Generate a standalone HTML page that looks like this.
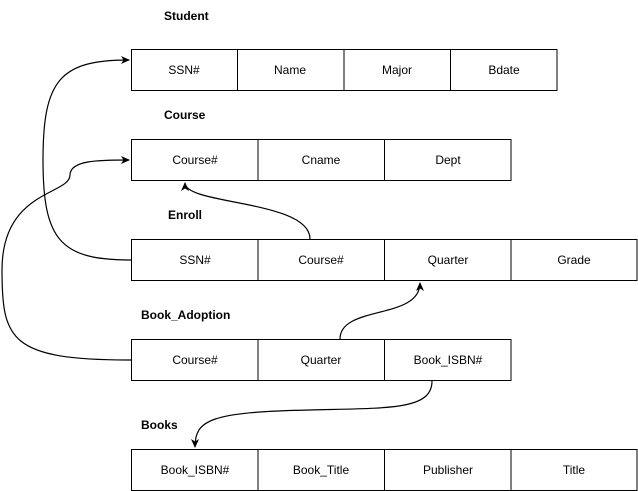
<!DOCTYPE html>
<html><head><style>
body{margin:0;background:#fff;width:638px;height:491px;overflow:hidden;font-family:"Liberation Sans",Arial,sans-serif;}
svg{position:absolute;left:0;top:0}
</style></head><body>
<svg width="638" height="491" viewBox="0 0 638 491" font-family="Liberation Sans, Arial, sans-serif" font-size="12">
<defs><marker id="a" markerWidth="10" markerHeight="10" refX="8" refY="5" orient="auto" markerUnits="userSpaceOnUse"><path d="M0,1 L9,5 L0,9 L2.5,5 Z" fill="#000"/></marker></defs>
<g font-weight="bold" font-size="12">
<text x="164" y="20">Student</text>
<text x="164" y="119">Course</text>
<text x="168" y="219">Enroll</text>
<text x="141" y="319">Book_Adoption</text>
<text x="141" y="429">Books</text>
</g>
<g fill="#fff" stroke="#000" stroke-width="1">
<rect x="131.5" y="49.5" width="106" height="41"/><rect x="237.5" y="49.5" width="106.5" height="41"/><rect x="344" y="49.5" width="106.5" height="41"/><rect x="450.5" y="49.5" width="106.5" height="41"/>
<rect x="131.5" y="139.5" width="126.5" height="41"/><rect x="258" y="139.5" width="126.5" height="41"/><rect x="384.5" y="139.5" width="126.5" height="41"/>
<rect x="131.5" y="239.5" width="126.5" height="41"/><rect x="258" y="239.5" width="126.5" height="41"/><rect x="384.5" y="239.5" width="126.5" height="41"/><rect x="511" y="239.5" width="126" height="41"/>
<rect x="131.5" y="339.5" width="126.5" height="41"/><rect x="258" y="339.5" width="126.5" height="41"/><rect x="384.5" y="339.5" width="126.5" height="41"/>
<rect x="131.5" y="449.5" width="126.5" height="41"/><rect x="258" y="449.5" width="126.5" height="41"/><rect x="384.5" y="449.5" width="126.5" height="41"/><rect x="511" y="449.5" width="126" height="41"/>
</g>
<g text-anchor="middle">
<text x="184" y="74">SSN#</text><text x="290" y="74">Name</text><text x="397" y="74">Major</text><text x="504" y="74">Bdate</text>
<text x="195" y="164">Course#</text><text x="321" y="164">Cname</text><text x="448" y="164">Dept</text>
<text x="195" y="264">SSN#</text><text x="321" y="264">Course#</text><text x="448" y="264">Quarter</text><text x="574" y="264">Grade</text>
<text x="195" y="364">Course#</text><text x="321" y="364">Quarter</text><text x="448" y="364">Book_ISBN#</text>
<text x="195" y="474">Book_ISBN#</text><text x="321" y="474">Book_Title</text><text x="448" y="474">Publisher</text><text x="574" y="474">Title</text>
</g>
<g fill="none" stroke="#000" stroke-width="1.2">
<path d="M131,260 C60,260 43,240 43,160 C43,80 60,60 129,60" marker-end="url(#a)"/>
<path d="M310,239 C310,200 185,205 185,183" marker-end="url(#a)"/>
<path d="M131,360 C10,360 2,340 2,270 C2,190 70,195 70,175 C70,160 100,160 129,160" marker-end="url(#a)"/>
<path d="M340,339 C340,305 420,320 420,283" marker-end="url(#a)"/>
<path d="M432,381 C432,410 390,408 310,410 C210,412 195,420 195,447" marker-end="url(#a)"/>
</g>
</svg>
</body></html>
